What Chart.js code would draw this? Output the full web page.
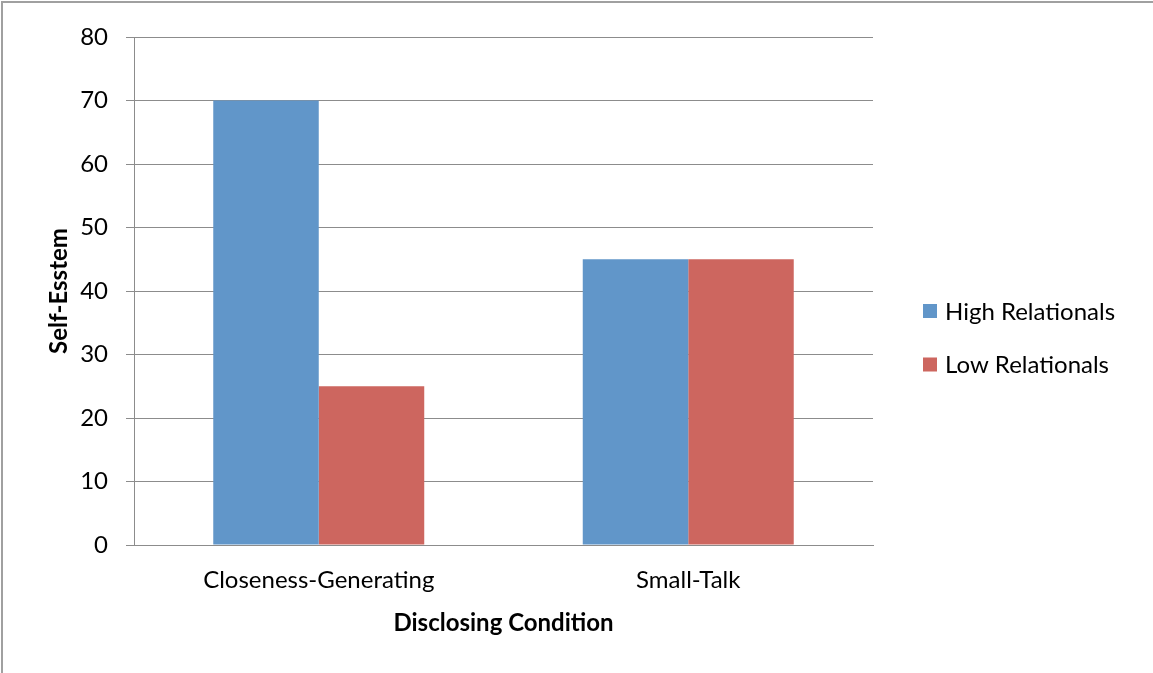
<!DOCTYPE html>
<html>
<head>
<meta charset="utf-8">
<script src="https://cdn.jsdelivr.net/npm/chart.js@4"></script>
<style>
  html, body { margin: 0; padding: 0; background: #fff; }
  #c { display: block; }
</style>
</head>
<body>
<canvas id="c" width="1153" height="673"></canvas>
<script>
const categories = ["Closeness-Generating", "Small-Talk"];
const seriesNames = ["High Relationals", "Low Relationals"];
const highRelationals = [70, 45];
const lowRelationals = [25, 45];
const yTicks = [0, 10, 20, 30, 40, 50, 60, 70, 80];
const yTitle = "Self-Esstem";
const xTitle = "Disclosing Condition";

const COLORS = ["#6196C9", "#CD665F"];
const FONT = "Lato";
const GRID = "#8c8c8c";

const frameAndLegend = {
  id: "frameAndLegend",
  afterDraw(chart) {
    const ctx = chart.ctx;
    ctx.save();
    // outer frame (top and left edges visible)
    ctx.fillStyle = "#a0a0a0";
    ctx.fillRect(1, 1, chart.width, 2);
    ctx.fillRect(1, 1, 2, chart.height);
    // legend
    const x0 = 923, ys = [311, 364.5];
    ctx.font = "24px " + FONT;
    ctx.textBaseline = "middle";
    ctx.textAlign = "left";
    chart.data.datasets.forEach((ds, i) => {
      ctx.fillStyle = ds.backgroundColor;
      ctx.fillRect(x0, ys[i] - 7, 14, 14);
      ctx.fillStyle = "#000";
      ctx.fillText(ds.label, x0 + 22, ys[i] + 1);
    });
    ctx.restore();
  }
};

new Chart(document.getElementById("c"), {
  type: "bar",
  data: {
    labels: categories,
    datasets: [
      { label: seriesNames[0], data: highRelationals, backgroundColor: COLORS[0] },
      { label: seriesNames[1], data: lowRelationals, backgroundColor: COLORS[1] }
    ]
  },
  options: {
    responsive: false,
    animation: false,
    devicePixelRatio: 1,
    layout: { padding: { top: 37, right: 280, bottom: 0, left: 0 } },
    datasets: { bar: { categoryPercentage: 0.571, barPercentage: 1.0, borderWidth: 0 } },
    plugins: {
      legend: { display: false },
      tooltip: { enabled: false },
      title: { display: false }
    },
    scales: {
      x: {
        afterFit(scale) { scale.height = 128; },
        grid: { display: false, drawTicks: false },
        border: { display: true, color: GRID, width: 1 },
        ticks: { color: "#000", font: { family: FONT, size: 24 }, padding: 21, maxRotation: 0 },
        title: {
          display: true, text: xTitle, color: "#000",
          font: { family: FONT, size: 24, weight: "bold" },
          padding: { top: 0, bottom: 35 }
        }
      },
      y: {
        min: 0, max: 80,
        afterFit(scale) { scale.width = 134; },
        afterBuildTicks(scale) { scale.ticks = yTicks.map(v => ({ value: v })); },
        grid: { color: GRID, lineWidth: 1, tickLength: 8, drawTicks: true },
        border: { display: true, color: GRID, width: 1 },
        ticks: { color: "#000", font: { family: FONT, size: 24 }, padding: 18 },
        title: {
          display: true, text: yTitle, color: "#000",
          font: { family: FONT, size: 24, weight: "bold" },
          padding: { top: 45, bottom: 0 }
        }
      }
    }
  },
  plugins: [frameAndLegend]
});
</script>
</body>
</html>
